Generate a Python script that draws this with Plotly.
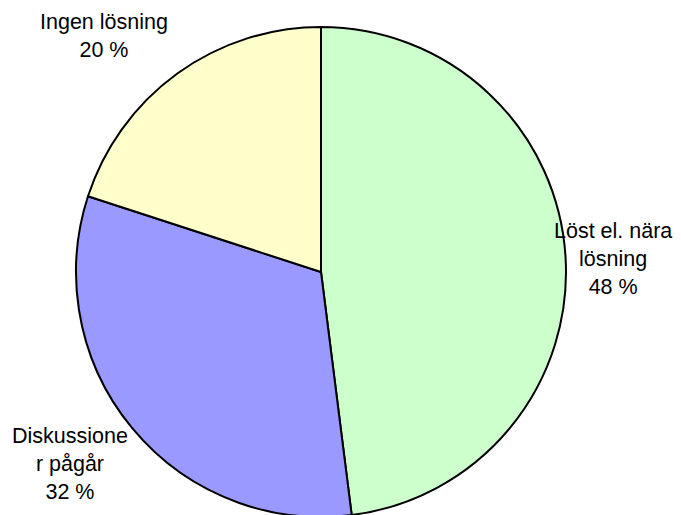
import plotly.graph_objects as go

categories = ["Löst el. nära lösning", "Diskussioner pågår", "Ingen lösning"]
values = [48, 32, 20]
label_lines = ["Löst el. nära<br>lösning", "Diskussione<br>r pågår", "Ingen lösning"]
colors = ["#CCFFCC", "#9999FF", "#FFFFCC"]

# page body has an 8px margin; compensate positions
OFF = 8
W, H = 681, 515
# label block centers in window pixels
label_pos = [(613, 259), (70, 464), (104, 36)]

# pie centre / radius in window pixels
cx, cy, r = 321 - OFF, 272 - OFF, 245

fig = go.Figure(go.Pie(
    labels=categories,
    values=values,
    sort=False,
    direction="clockwise",
    rotation=0,
    textinfo="none",
    hoverinfo="label+percent",
    marker=dict(colors=colors, line=dict(color="black", width=2)),
    domain=dict(x=[(cx - r) / W, (cx + r) / W],
                y=[1 - (cy + r) / H, 1 - (cy - r) / H]),
    showlegend=False,
))

annotations = []
for txt, v, (px, py) in zip(label_lines, values, label_pos):
    annotations.append(dict(
        text=f"{txt}<br>{v} %",
        x=(px - OFF) / W, y=1 - (py - OFF) / H, xref="paper", yref="paper",
        xanchor="center", yanchor="middle", showarrow=False,
        font=dict(family="Arial, Liberation Sans, sans-serif", size=21.5, color="black"),
        align="center",
    ))

fig.update_layout(
    width=W, height=H,
    margin=dict(l=0, r=0, t=0, b=0),
    paper_bgcolor="white", plot_bgcolor="white",
    annotations=annotations,
)
fig.write_html("out.html")
